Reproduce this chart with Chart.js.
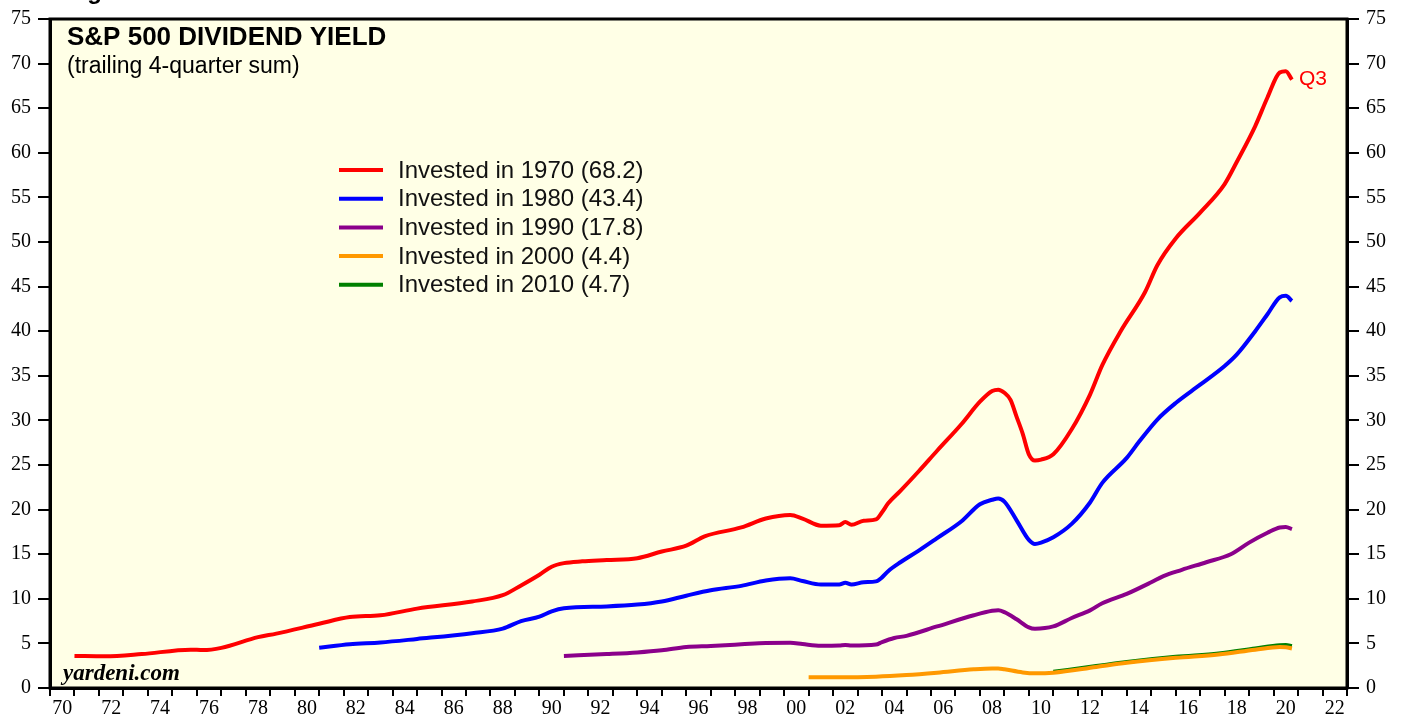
<!DOCTYPE html>
<html>
<head>
<meta charset="utf-8">
<script src="https://cdn.jsdelivr.net/npm/chart.js@4/dist/chart.umd.min.js"></script>
<style>
  html, body { margin: 0; padding: 0; background: #ffffff; }
  #wrap { width: 1407px; height: 719px; }
</style>
</head>
<body>
<div id="wrap"><canvas id="chart" width="1407" height="719"></canvas></div>
<script>
// dividend yield on a 1970 / 1980 / ... investment
const yearsRed = [1971.0, 1972.25, 1973.75, 1975.75, 1976.25, 1977.0, 1978.5, 1979.25, 1981.0, 1982.25, 1983.5, 1985.0, 1987.25, 1988.5, 1989.25, 1990.0, 1990.5, 1991.0, 1991.75, 1992.75, 1994.0, 1995.0, 1996.0, 1996.75, 1998.25, 1999.25, 2000.25, 2000.75, 2001.5, 2002.25, 2002.5, 2002.75, 2003.25, 2003.75, 2004.0, 2004.25, 2004.75, 2005.5, 2006.25, 2007.25, 2008.0, 2008.5, 2008.75, 2009.0, 2009.25, 2009.5, 2009.75, 2010.0, 2010.25, 2010.5, 2011.0, 2011.75, 2012.5, 2013.0, 2013.75, 2014.75, 2015.25, 2016.0, 2017.0, 2018.0, 2018.5, 2019.25, 2019.75, 2020.25, 2020.5, 2020.75];
const valuesRed = [3.6, 3.55, 3.8, 4.3, 4.25, 4.5, 5.7, 6.1, 7.2, 7.95, 8.15, 8.9, 9.7, 10.4, 11.5, 12.7, 13.6, 14.0, 14.2, 14.35, 14.55, 15.3, 15.95, 17.0, 18.0, 19.0, 19.4, 19.0, 18.2, 18.25, 18.6, 18.3, 18.75, 18.9, 19.7, 20.7, 22.1, 24.3, 26.6, 29.6, 32.1, 33.3, 33.45, 33.1, 32.3, 30.4, 28.5, 26.2, 25.5, 25.6, 26.2, 29.0, 32.9, 36.2, 40.0, 44.4, 47.4, 50.4, 53.3, 56.5, 59.0, 63.0, 66.2, 69.0, 69.15, 68.2];

const yearsBlue = [1981.0, 1982.25, 1983.5, 1985.0, 1987.25, 1988.5, 1989.25, 1990.0, 1990.5, 1991.0, 1992.75, 1994.0, 1995.0, 1996.0, 1997.0, 1998.25, 1999.25, 2000.25, 2000.75, 2001.5, 2002.25, 2002.5, 2002.75, 2003.25, 2003.75, 2004.0, 2004.25, 2004.75, 2005.5, 2006.25, 2007.25, 2008.0, 2008.5, 2008.75, 2009.0, 2009.5, 2010.0, 2010.25, 2010.5, 2011.0, 2011.75, 2012.5, 2013.0, 2014.0, 2014.5, 2015.25, 2016.0, 2017.0, 2018.0, 2018.5, 2019.25, 2019.75, 2020.25, 2020.5, 2020.75];
const valuesBlue = [4.5, 4.9, 5.1, 5.5, 6.15, 6.65, 7.5, 8.0, 8.6, 8.95, 9.15, 9.35, 9.7, 10.35, 10.95, 11.45, 12.05, 12.3, 12.0, 11.6, 11.6, 11.8, 11.6, 11.85, 11.95, 12.4, 13.1, 14.1, 15.4, 16.8, 18.7, 20.6, 21.1, 21.25, 20.9, 18.8, 16.6, 16.15, 16.3, 16.9, 18.4, 20.8, 23.0, 25.8, 27.6, 30.1, 31.95, 34.0, 36.1, 37.4, 40.0, 41.9, 43.8, 43.97, 43.4];

const yearsPurple = [1991.0, 1992.75, 1994.0, 1995.0, 1996.0, 1997.0, 1998.25, 1999.25, 2000.25, 2000.75, 2001.5, 2002.25, 2002.5, 2002.75, 2003.75, 2004.0, 2004.5, 2005.0, 2006.25, 2007.75, 2008.5, 2008.75, 2009.0, 2009.5, 2010.0, 2010.25, 2011.0, 2011.75, 2012.5, 2013.0, 2014.0, 2015.0, 2015.5, 2016.25, 2017.25, 2018.25, 2019.0, 2019.75, 2020.25, 2020.5, 2020.75];
const valuesPurple = [3.6, 3.8, 3.98, 4.22, 4.6, 4.72, 4.9, 5.05, 5.07, 4.92, 4.73, 4.76, 4.83, 4.76, 4.87, 5.15, 5.6, 5.85, 6.9, 8.15, 8.65, 8.72, 8.5, 7.7, 6.8, 6.65, 6.9, 7.85, 8.7, 9.5, 10.55, 11.85, 12.55, 13.25, 14.1, 15.0, 16.3, 17.4, 18.0, 18.05, 17.8];

const yearsOrange = [2001.0, 2002.25, 2003.75, 2005.0, 2006.25, 2007.75, 2008.5, 2008.75, 2009.0, 2009.75, 2010.25, 2011.0, 2012.75, 2014.0, 2016.0, 2017.75, 2019.25, 2020.25, 2020.5, 2020.75];
const valuesOrange = [1.2, 1.2, 1.27, 1.45, 1.72, 2.1, 2.2, 2.2, 2.1, 1.75, 1.65, 1.72, 2.36, 2.82, 3.38, 3.76, 4.3, 4.6, 4.58, 4.43];

const yearsGreen = [2011.0, 2012.75, 2014.0, 2016.0, 2017.75, 2019.25, 2020.25, 2020.5, 2020.75];
const valuesGreen = [1.82, 2.46, 2.92, 3.5, 3.87, 4.43, 4.8, 4.82, 4.7];

const legendLabels = ["Invested in 1970 (68.2)", "Invested in 1980 (43.4)", "Invested in 1990 (17.8)", "Invested in 2000 (4.4)", "Invested in 2010 (4.7)"];
const legendColors = ["#ff0000", "#0000ff", "#8b008b", "#ff9900", "#008000"];

function toPoints(xs, ys) {
    return xs.map(function (x, i) { return { x: x, y: ys[i] }; });
}

function lineSet(label, xs, ys, color) {
    return {
        label: label,
        data: toPoints(xs, ys),
        borderColor: color,
        backgroundColor: color,
        borderWidth: 4,
        pointRadius: 0,
        cubicInterpolationMode: "monotone",
        borderJoinStyle: "round",
        fill: false
    };
}

const frame = {
    id: "frame",
    beforeDraw(chart) {
        const a = chart.chartArea, ctx = chart.ctx;
        ctx.save();
        ctx.fillStyle = "#ffffe6";
        ctx.fillRect(a.left, a.top, a.right - a.left, a.bottom - a.top);
        ctx.restore();
    },
    afterDraw(chart) {
        const a = chart.chartArea, ctx = chart.ctx;
        ctx.save();
        ctx.strokeStyle = "#000";
        ctx.lineWidth = 3;
        ctx.strokeRect(a.left, a.top, a.right - a.left, a.bottom - a.top);

        // titles
        ctx.fillStyle = "#000";
        ctx.textBaseline = "alphabetic";
        ctx.font = "bold 24px 'Liberation Sans', Arial, sans-serif";
        ctx.fillText("Figure 1", 66, -1);
        ctx.font = "bold 26px 'Liberation Sans', Arial, sans-serif";
        ctx.fillText("S&P 500 DIVIDEND YIELD", 67, 45);
        ctx.font = "23px 'Liberation Sans', Arial, sans-serif";
        ctx.fillText("(trailing 4-quarter sum)", 67, 73);

        // legend
        ctx.textBaseline = "middle";
        ctx.font = "24px 'Liberation Sans', Arial, sans-serif";
        legendLabels.forEach(function (txt, i) {
            let y = 170 + i * 28.7;
            ctx.strokeStyle = legendColors[i];
            ctx.lineWidth = 4;
            ctx.beginPath();
            ctx.moveTo(339, y);
            ctx.lineTo(383, y);
            ctx.stroke();
            ctx.fillStyle = "#111";
            ctx.fillText(txt, 398, y + 1);
        });

        ctx.fillStyle = "#ff0000";
        ctx.font = "21px 'Liberation Sans', Arial, sans-serif";
        ctx.fillText("Q3", 1299, 79);

        ctx.fillStyle = "#000";
        ctx.textBaseline = "alphabetic";
        ctx.font = "italic bold 23px 'Liberation Serif', 'Times New Roman', serif";
        ctx.fillText("yardeni.com", 63, 680);
        ctx.restore();
    }
};

const tickFont = { family: "'Liberation Serif', 'Times New Roman', serif", size: 20 };

function yAxis(pos, width) {
    return {
        type: "linear",
        position: pos,
        min: 0,
        max: 75,
        afterFit(scale) { scale.width = width; },
        border: { display: true, color: "#000", width: 3 },
        grid: { drawOnChartArea: false, drawTicks: true, tickLength: 12, tickColor: "#000", lineWidth: 2 },
        ticks: { stepSize: 5, color: "#000", font: tickFont, padding: 7 }
    };
}

new Chart(document.getElementById("chart"), {
    type: "line",
    data: {
        datasets: [
            lineSet(legendLabels[3], yearsOrange, valuesOrange, legendColors[3]),
            lineSet(legendLabels[2], yearsPurple, valuesPurple, legendColors[2]),
            lineSet(legendLabels[1], yearsBlue, valuesBlue, legendColors[1]),
            lineSet(legendLabels[0], yearsRed, valuesRed, legendColors[0]),
            lineSet(legendLabels[4], yearsGreen, valuesGreen, legendColors[4])
        ]
    },
    options: {
        responsive: false,
        animation: false,
        layout: { padding: { top: 16, left: 0, right: 0, bottom: 0 } },
        plugins: { legend: { display: false }, tooltip: { enabled: false } },
        scales: {
            x: {
                type: "linear",
                min: 1970,
                max: 2023,
                afterFit(scale) { scale.height = 31; },
                border: { display: true, color: "#000", width: 3 },
                grid: { drawOnChartArea: false, drawTicks: true, tickLength: 8, tickColor: "#000", lineWidth: 2 },
                ticks: {
                    stepSize: 1,
                    autoSkip: false,
                    maxRotation: 0,
                    minRotation: 0,
                    color: "#000",
                    font: tickFont,
                    padding: 1,
                    labelOffset: 12.2,
                    callback: function (v) {
                        if (v % 2 !== 0 || v >= 2023) return "";
                        return String(v % 100).padStart(2, "0");
                    }
                }
            },
            y: yAxis("left", 50),
            y2: yAxis("right", 60)
        }
    },
    plugins: [frame]
});
</script>
</body>
</html>
